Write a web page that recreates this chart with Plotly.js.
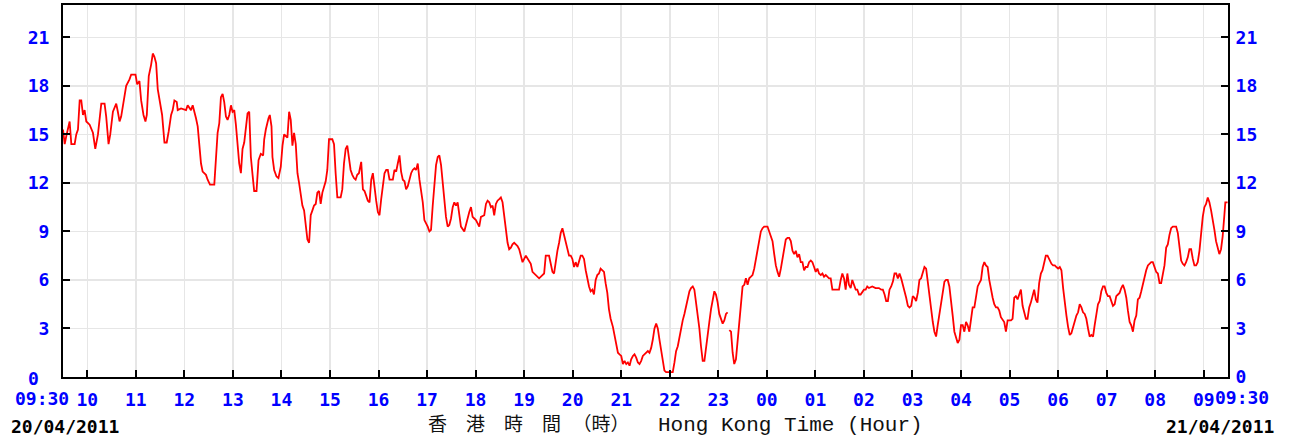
<!DOCTYPE html>
<html>
<head>
<meta charset="utf-8">
<script src="https://cdn.plot.ly/plotly-3.0.1.min.js"></script>
<style>html,body{margin:0;padding:0;background:#fff;}#chart{width:1298px;height:441px;}</style>
</head>
<body>
<div id="chart"></div>
<script>
// Minutes after 09:30 on 20/04/2011, and readings
const minutesA = [0,2.1,4.1,6.2,8.2,10.3,14.4,16.4,18.5,20.6,22.6,24.7,26.7,28.8,32.9,37.0,39.9,43.2,45.2,47.3,51.4,53.4,56.3,58.4,61.7,65.8,67.8,69.9,71.9,74.8,78.1,82.2,84.3,89.6,91.7,94.5,96.6,99.5,101.9,103.6,106.0,108.9,111.0,113.0,115.1,117.1,120.0,122.5,125.4,128.2,130.7,133.6,135.6,137.7,140.6,141.8,145.9,152.1,154.1,158.2,160.3,162.3,164.4,166.5,168.5,170.6,172.6,176.7,178.8,181.7,187.0,189.1,191.1,193.2,195.2,197.3,199.3,201.4,203.4,205.5,207.6,209.6,211.7,213.7,215.8,217.8,219.9,221.9,224.0,226.1,228.1,230.2,232.2,234.3,236.3,239.2,241.7,244.5,247.4,248.7,250.7,254.0,255.6,257.7,258.9,261.0,263.9,266.3,269.2,271.3,273.3,275.4,277.4,279.5,281.5,283.6,285.6,287.7,289.8,291.8,293.9,295.9,298.0,300.0,302.1,304.2,306.2,308.3,310.3,312.4,314.4,316.5,318.5,320.6,322.6,324.7,326.7,328.8,332.9,335.0,337.0,339.1,343.2,345.2,347.3,349.4,351.4,353.5,355.5,357.6,359.6,361.7,363.7,365.8];
const valuesA = [15.3,14.4,14.9,15.3,15.8,14.4,14.4,15.0,15.3,17.1,17.1,16.2,16.5,15.8,15.6,15.1,14.1,15.0,16.0,16.9,16.9,16.1,14.4,15.0,16.4,16.9,16.4,15.8,16.1,17.0,18.0,18.4,18.7,18.7,18.1,18.3,17.1,16.2,15.8,16.2,18.6,19.3,20.0,19.8,19.4,17.8,16.9,16.2,14.5,14.5,15.2,16.2,16.5,17.1,17.0,16.5,16.6,16.5,16.8,16.5,16.8,16.3,16.0,15.5,14.3,13.2,12.7,12.5,12.2,11.9,11.9,13.6,15.1,15.7,17.3,17.5,17.0,16.1,15.9,16.2,16.8,16.4,16.5,15.6,14.5,13.2,12.6,14.1,14.5,15.6,16.3,16.4,13.6,12.5,11.5,11.5,13.4,13.8,13.7,14.7,15.3,16.0,16.2,15.5,13.6,12.8,12.4,12.3,13.0,14.3,15.0,14.9,14.8,16.4,15.9,14.3,15.1,14.4,12.6,12.0,11.4,10.6,10.3,9.3,8.5,8.3,10.0,10.3,10.6,10.7,11.4,11.5,10.7,11.4,11.8,12.1,12.8,14.7,14.7,14.4,12.6,11.1,11.1,11.6,13.2,14.1,14.3,13.6,12.8,12.5,12.3,12.2,12.5,12.6];

const minutesB = [368.6,370.7,372.7,374.8,376.8,378.9,381.0,383.0,385.1,387.1,389.2,391.2,393.3,395.3,397.4,399.5,401.5,403.6,407.7,409.7,411.8,413.8,415.9,417.9,420.0,422.1,424.1,426.2,428.2,430.3,432.3,434.4,436.4,438.5,440.6,442.6,444.7,446.7,448.8,450.8,452.9,454.9,457.0,459.0,461.1,463.2,465.2,467.3,469.3,471.4,473.4,475.5,477.5,479.6,481.7,483.7,485.8,487.8,489.9,491.9,496.0,498.1,500.1,502.2,504.3,506.3,508.4,510.4,512.5,514.5,516.6,520.7,522.8,524.8,526.9,528.9,531.0,533.0,535.1,537.1,539.2,541.2,543.3,545.4,547.4,549.5,551.5,553.6,555.6,557.7,559.7,561.8,563.9,565.9,568.0,572.1,576.2,578.2,580.3,584.4,588.5,592.6,594.7,596.7,600.8,602.9,605.0,607.0,609.1,611.1,613.2,615.2,617.3,619.3,621.4,623.4,625.5,627.6,629.6,631.7,633.7,635.8,637.8,639.9,641.9,644.0,646.1,648.1,650.2,652.2,654.3,656.3,658.4,660.4,662.5,664.5,666.6,668.7,670.7,672.8,674.8,676.9];
const valuesB = [13.3,11.6,11.5,11.2,10.9,10.8,12.2,12.6,11.6,10.9,10.2,10.0,11.0,11.9,12.6,12.8,12.8,12.2,12.2,12.8,12.7,13.2,13.7,12.7,12.2,12.1,11.6,11.8,12.3,12.6,12.8,12.9,12.8,13.2,12.2,11.5,10.8,9.7,9.5,9.3,9.0,9.1,10.6,12.0,13.1,13.6,13.7,13.1,12.0,11.0,9.9,9.3,9.4,9.8,10.5,10.8,10.6,10.8,9.9,9.3,9.0,9.4,9.9,10.2,10.5,9.9,9.8,9.7,9.5,9.3,9.9,10.0,10.7,10.9,10.8,10.5,10.6,10.0,10.7,10.9,11.0,11.1,10.8,9.9,9.3,8.3,7.9,8.0,8.2,8.3,8.2,8.1,7.9,7.5,7.1,7.5,7.1,7.0,6.5,6.3,6.1,6.3,6.4,7.5,7.5,7.0,6.5,6.4,7.3,7.8,8.3,8.9,9.2,8.8,8.4,7.9,7.5,7.5,7.3,6.8,7.1,6.8,7.1,7.5,7.5,7.3,6.6,6.0,5.6,5.3,5.4,5.1,6.0,6.3,6.4,6.7,6.6,6.5,5.8,5.2,4.2,3.6];

const minutesC = [679.7,681.8,683.8,685.9,687.9,690.0,692.1,694.1,696.2,698.2,700.3,702.3,704.4,706.4,708.5,710.6,712.6,714.7,716.7,718.8,720.8,722.9,724.9,727.0,729.0,731.1,733.2,735.2,737.3,739.3,741.4,743.4,745.5,749.6,753.7,755.8,757.8,759.9,761.9,764.0,766.0,768.1,770.1,772.2,774.3,776.3,778.4,780.4,782.5,784.5,786.6,788.6,790.7,792.8,794.8,796.9,798.9,801.0,803.0,805.1,807.1,809.2,811.2,813.3,815.4,817.4,819.5,821.5,822.5,823.6,825.7,827.7,829.7,831.8,833.8,835.9,838.0,840.0,842.1,844.1,846.2,848.2,850.3,852.3,854.4,856.5,858.5,860.6,862.6,864.7,866.7,870.8,872.9,874.9,877.0,879.1,881.1,883.2,885.2,887.3,889.3,891.4,893.4,895.5,897.6,899.6,901.7,903.7,905.8,907.8,909.9,911.9,914.0,916.0,918.1,920.2,922.2,924.3,926.3,928.4,930.4,932.5,934.5,936.6,938.7,940.7,942.8,944.8,946.9,948.9,951.0,955.1,959.2,961.3,963.3,965.4,967.4,969.5,971.5,973.6,975.6,977.7,979.8,981.8,983.9,985.9,988.0,990.0,992.1,994.1,996.2,1000.3,1004.4,1008.5];
const valuesC = [3.1,2.5,1.9,1.5,1.4,1.3,0.8,1.0,0.8,0.9,0.7,1.1,1.3,1.4,1.2,0.9,0.8,1.0,1.3,1.4,1.5,1.6,1.5,1.8,2.3,3.0,3.3,3.0,2.3,1.6,0.9,0.4,0.3,0.3,0.3,0.9,1.6,1.9,2.5,3.1,3.5,3.9,4.4,4.8,5.3,5.5,5.6,5.4,4.6,4.0,3.0,1.9,1.0,1.0,1.9,2.8,3.4,4.2,4.8,5.3,5.1,4.6,3.9,3.6,3.3,3.5,3.9,4.0,null,2.9,2.8,1.5,0.8,1.1,2.3,3.2,4.6,5.6,5.7,6.1,5.7,6.1,6.2,6.3,6.7,7.3,8.0,8.6,9.0,9.2,9.3,9.3,9.0,8.6,8.4,7.6,6.9,6.5,6.2,6.7,7.3,7.9,8.5,8.6,8.6,8.4,7.8,7.6,7.8,7.4,7.6,7.1,7.1,6.6,6.8,6.8,7.1,7.2,7.1,6.8,6.5,6.7,6.4,6.3,6.4,6.2,6.3,6.2,6.1,6.1,5.4,5.4,5.4,6.0,6.4,6.1,5.4,6.4,5.7,5.5,6.0,5.7,5.4,5.4,5.1,5.1,5.3,5.4,5.4,5.6,5.5,5.6,5.5,5.5];

const minutesD = [1011.4,1013.4,1015.5,1017.5,1019.6,1021.6,1023.7,1025.8,1027.8,1029.9,1031.9,1034.0,1036.0,1038.1,1040.1,1042.2,1044.3,1046.3,1048.4,1050.4,1052.5,1054.5,1056.6,1058.6,1060.7,1062.7,1064.8,1066.9,1068.9,1071.0,1073.0,1075.1,1077.1,1079.2,1081.2,1083.3,1085.4,1087.4,1089.5,1091.5,1093.6,1095.6,1097.7,1099.7,1101.8,1103.8,1105.9,1108.0,1110.0,1112.1,1114.1,1116.2,1118.2,1120.3,1122.3,1124.4,1126.5,1128.5,1130.6,1132.6,1134.7,1136.7,1138.8,1140.8,1142.9,1144.9,1147.0,1149.1,1151.1,1153.2,1155.2,1157.3,1159.3,1161.4,1163.4,1165.5,1167.6,1171.7,1173.7,1175.8,1177.8,1179.9,1181.9,1184.0,1186.1,1188.1,1190.2,1192.2,1194.3,1196.3,1198.4,1200.4,1202.5,1204.5,1206.6,1208.7,1210.7,1212.8,1214.8,1216.9,1218.9];
const valuesD = [5.4,5.4,5.1,4.7,4.7,5.4,5.6,5.9,6.4,6.4,6.1,6.4,6.1,5.7,5.4,4.9,4.4,4.3,4.4,5.0,4.9,4.7,5.2,6.0,6.1,6.4,6.8,6.7,5.8,4.9,4.2,3.4,2.8,2.5,3.2,3.9,4.6,5.4,5.9,6.0,6.0,5.6,4.8,3.8,2.8,2.5,2.1,2.3,3.2,3.2,2.8,3.4,3.2,2.8,3.7,4.3,4.3,5.0,5.6,5.8,6.0,6.8,7.1,6.9,6.8,6.0,5.4,4.9,4.5,4.3,4.3,4.1,3.7,3.5,3.4,2.8,3.5,3.5,3.6,4.9,5.0,4.8,5.1,5.4,4.4,3.9,3.6,3.6,4.3,4.6,5.1,5.4,4.8,4.6,5.8,6.4,6.6,7.0,7.5,7.5,7.3];

const minutesE = [1219.7,1221.8,1223.8,1225.9,1227.9,1230.0,1232.1,1234.1,1236.2,1238.2,1240.3,1242.3,1244.4,1246.4,1248.5,1250.6,1252.6,1254.7,1256.7,1258.8,1260.8,1262.9,1264.9,1267.0,1269.0,1271.1,1273.2,1275.2,1277.3,1279.3,1281.4,1283.4,1285.5,1287.5,1289.6,1291.6,1293.7,1295.8,1297.8,1299.9,1301.9,1304.0,1306.0,1308.1,1310.1,1312.2,1314.3,1316.3,1318.4,1320.4,1322.5,1324.5,1326.6,1328.6,1330.7,1332.8,1334.8,1336.9,1338.9,1341.0,1343.0,1345.1,1347.1,1349.2,1351.2,1353.3,1355.4,1357.4,1359.5,1361.5,1363.6,1365.6,1367.7,1369.7,1371.8,1375.9,1378.0,1380.0,1382.1,1384.1,1386.2,1388.2,1390.3,1392.3,1394.4,1396.5,1398.5,1400.6,1402.6,1404.7,1406.7,1408.8,1410.8,1412.9,1415.0,1417.0,1419.1,1421.1,1423.2,1425.2,1427.3,1429.3,1431.4,1433.4,1435.5,1436.7,1439.5];
const valuesE = [7.2,7.0,6.9,6.9,6.8,6.7,6.8,6.6,5.5,4.5,3.8,3.1,2.6,2.7,3.1,3.4,3.8,4.0,4.5,4.3,4.0,3.9,3.6,3.0,2.5,2.6,2.5,3.2,3.8,4.5,4.7,5.3,5.6,5.6,5.2,5.0,5.0,4.7,4.4,4.5,5.0,5.1,5.2,5.5,5.7,5.4,4.9,4.1,3.4,3.2,2.8,3.5,3.8,4.8,4.9,5.3,5.8,6.1,6.6,6.9,7.0,7.1,7.1,6.8,6.5,6.4,5.8,5.8,6.4,6.9,8.0,8.2,8.8,9.2,9.3,9.3,8.9,8.0,7.2,7.0,6.9,7.1,7.4,7.9,7.9,7.3,6.9,6.9,7.1,7.8,9.0,9.9,10.5,10.7,11.1,10.8,10.3,9.8,9.1,8.4,8.0,7.6,7.9,8.7,10.0,10.8,10.8];

// Axis ticks
const hourTickMinutes = [30,90,150,210,270,330,390,450,510,570,630,690,750,810,870,930,990,1050,1110,1170,1230,1290,1350,1410];
const hourTickLabels = ['10','11','12','13','14','15','16','17','18','19','20','21','22','23','00','01','02','03','04','05','06','07','08','09'];
const midnightMinute = 870;
const valueTicks = [0,3,6,9,12,15,18,21];
const startLabel = '09:30', endLabel = '09:30';
const startDate = '20/04/2011', endDate = '21/04/2011';
const titleZh = '香　港　時　間 （時）';
const titleEn = 'Hong Kong Time (Hour)';

const xs = [].concat(minutesA, minutesB, minutesC, minutesD, minutesE);
const ys = [].concat(valuesA, valuesB, valuesC, valuesD, valuesE);

const tickFont = {family: 'DejaVu Sans Mono', size: 18, color: '#0000ff', weight: 'bold'};
const dateFont = {family: 'DejaVu Sans Mono', size: 18, color: '#000000', weight: 'bold'};

const trace = {
  x: xs, y: ys, type: 'scatter', mode: 'lines',
  line: {color: '#ff0000', width: 1.8},
  connectgaps: false, hoverinfo: 'skip'
};
const trace2 = {x: [xs[0]], y: [ys[0]], yaxis: 'y2', mode: 'lines', showlegend: false, hoverinfo: 'skip', line: {width: 0}};

const layout = {
  width: 1298, height: 441,
  margin: {l: 63, r: 70, t: 5, b: 64, pad: 0},
  paper_bgcolor: '#ffffff', plot_bgcolor: '#ffffff',
  showlegend: false,
  xaxis: {
    range: [0, 1440], tickmode: 'array', tickvals: hourTickMinutes, ticktext: hourTickLabels,
    ticks: 'inside', ticklen: 7, tickwidth: 2, tickcolor: '#000',
    showline: true, linecolor: '#000', linewidth: 2, mirror: true,
    showgrid: true, gridcolor: '#e6e6e6', gridwidth: 1.5,
    zeroline: false, tickfont: tickFont, ticklabelstandoff: 5, fixedrange: true
  },
  yaxis: {
    range: [0, 23], tickmode: 'array', tickvals: valueTicks.slice(1),
    ticks: 'inside', ticklen: 7, tickwidth: 2, tickcolor: '#000',
    showline: true, linecolor: '#000', linewidth: 2,
    showgrid: true, gridcolor: '#e6e6e6', gridwidth: 1.5,
    zeroline: false, tickfont: tickFont, ticklabelstandoff: 8, fixedrange: true
  },
  yaxis2: {
    range: [0, 23], overlaying: 'y', side: 'right', tickmode: 'array', tickvals: valueTicks,
    ticks: 'inside', ticklen: 7, tickwidth: 2, tickcolor: '#000',
    showline: true, linecolor: '#000', linewidth: 2,
    showgrid: false, zeroline: false, tickfont: tickFont, ticklabelstandoff: 2, fixedrange: true
  },
  shapes: [
    {type: 'line', layer: 'between', xref: 'x', yref: 'paper', x0: midnightMinute, x1: midnightMinute, y0: 0, y1: 1, line: {color: '#ffffff', width: 2.5}},
    {type: 'line', layer: 'between', xref: 'x', yref: 'paper', x0: midnightMinute, x1: midnightMinute, y0: 0, y1: 1, line: {color: '#dddddd', width: 1.5, dash: '6px,6px'}}
  ],
  annotations: [
    {xref: 'x', yref: 'y', x: 0, y: 0, text: String(valueTicks[0]), showarrow: false, xanchor: 'center', yanchor: 'middle', xshift: -30, yshift: -1, borderpad: 0, font: tickFont},
    {xref: 'x', yref: 'paper', x: 0, y: 0, text: startLabel, showarrow: false, xanchor: 'right', yanchor: 'middle', xshift: 7, yshift: -21, borderpad: 0, font: tickFont},
    {xref: 'x', yref: 'paper', x: 1440, y: 0, text: endLabel, showarrow: false, xanchor: 'left', yanchor: 'middle', xshift: -15, yshift: -20, font: tickFont},
    {xref: 'x', yref: 'paper', x: 0, y: 0, text: startDate, showarrow: false, xanchor: 'left', yanchor: 'middle', xshift: -54, yshift: -49, font: dateFont},
    {xref: 'x', yref: 'paper', x: 1440, y: 0, text: endDate, showarrow: false, xanchor: 'left', yanchor: 'middle', xshift: -64, yshift: -49, font: dateFont},
    {xref: 'paper', yref: 'paper', x: (426 - 63) / 1165, y: 0, text: titleZh, showarrow: false, xanchor: 'left', yanchor: 'middle', yshift: -48, font: {family: 'Liberation Mono, Noto Sans CJK TC', size: 19, color: '#111'}},
    {xref: 'paper', yref: 'paper', x: (656 - 63) / 1165, y: 0, text: titleEn, showarrow: false, xanchor: 'left', yanchor: 'middle', yshift: -48, font: {family: 'Liberation Mono', size: 21, color: '#111'}}
  ]
};

Plotly.newPlot('chart', [trace, trace2], layout, {staticPlot: true, displayModeBar: false});
</script>
</body>
</html>
